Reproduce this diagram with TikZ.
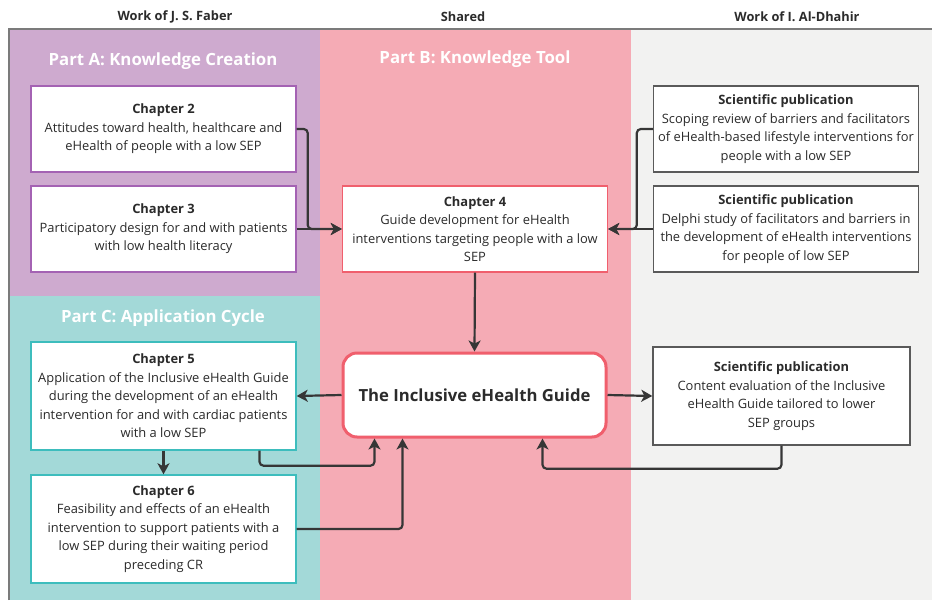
\documentclass[tikz,border=0pt]{standalone}
\usepackage{fontspec}
\setmainfont{Open Sans}
\usetikzlibrary{arrows.meta}
\definecolor{bgA}{HTML}{CEAACF}
\definecolor{bgB}{HTML}{F5ABB5}
\definecolor{bgC}{HTML}{A3D9D8}
\definecolor{bgD}{HTML}{F2F2F1}
\definecolor{lnA}{HTML}{A462B3}
\definecolor{lnB}{HTML}{F05F6D}
\definecolor{lnC}{HTML}{3DBDBD}
\definecolor{lnD}{HTML}{5A5A5A}
\definecolor{ink}{HTML}{2B2B2B}

\begin{document}
\begin{tikzpicture}[x=1pt,y=-1pt,
    box/.style={draw,fill=white,line width=1.4pt,text=ink,align=center,inner sep=1pt,
      minimum width=265pt,minimum height=86pt,font=\fontsize{12.9}{18.5}\selectfont},
    parthead/.style={text=white,font=\fontsize{16.8}{18}\selectfont\bfseries},
    colhead/.style={text=ink,font=\fontsize{12.8}{14}\selectfont\bfseries},
    link/.style={-{Stealth[length=11pt,width=12pt,inset=3pt]},line width=2.2pt,draw=ink!95,rounded corners=4pt}]
                      \useasboundingbox (0,0) rectangle (932,600);
                      \fill[bgA](9,29)rectangle(320,296);
                      \fill[bgC](9,296)rectangle(320,600);
                      \fill[bgB](320,29)rectangle(631,600);
                      \fill[bgD](631,29)rectangle(932,600);
                      \draw[lnD!80,line width=1.5pt](9,600)--(9,29)--(932,29);
                      \node[colhead](hA)at(175,17){Work of J. S. Faber};
                      \node[colhead](hB)at(463,17){Shared};
                      \node[colhead](hC)at(797,17){Work of I. Al-Dhahir};
                      \node[parthead](pA)at(163,61){Part A: Knowledge Creation};
                      \node[parthead](pB)at(475,59){Part B: Knowledge Tool};
                      \node[parthead](pC)at(163,318){Part C: Application Cycle};
                      \node[box,draw=lnA](ch2)at(163.5,129){\textbf{Chapter 2}\\Attitudes toward health, healthcare and\\eHealth of people with a low SEP};
                      \node[box,draw=lnA](ch3)at(163.5,229){\textbf{Chapter 3}\\Participatory design for and with patients\\with low health literacy};
                      \node[box,draw=lnB](ch4)at(475,229){\textbf{Chapter 4}\\Guide development for eHealth\\interventions targeting people with a low\\SEP};
                      \node[box,draw=lnD](pubA)at(786,129){\textbf{Scientific publication}\\Scoping review of barriers and facilitators\\of eHealth-based lifestyle interventions for\\people with a low SEP};
                      \node[box,draw=lnD](pubB)at(786,229){\textbf{Scientific publication}\\Delphi study of facilitators and barriers in\\the development of eHealth interventions\\for people of low SEP};
                      \node[box,draw=lnB,line width=3pt,rounded corners=14pt,minimum width=263pt,minimum height=84pt,
                        font=\fontsize{16.7}{18}\selectfont\bfseries](guide)at(474.5,395){The Inclusive eHealth Guide};
                      \node[box,draw=lnC,minimum height=108pt](ch5)at(163.5,396){\textbf{Chapter 5}\\Application of the Inclusive eHealth Guide\\during the development of an eHealth\\intervention for and with cardiac patients\\with a low SEP};
                      \node[box,draw=lnC,minimum height=108pt](ch6)at(163.5,529){\textbf{Chapter 6}\\Feasibility and effects of an eHealth\\intervention to support patients with a\\low SEP during their waiting period\\preceding CR};
                      \node[box,draw=lnD,minimum width=257pt,minimum height=98pt](pubC)at(781.5,396){\textbf{Scientific publication}\\Content evaluation of the Inclusive\\eHealth Guide tailored to lower\\SEP groups};
                      % arrows into chapter 4
                      \draw[link](ch2.east)--++(11,0)|-(ch4.west);
                      \draw[link](ch3.east)--(ch4.west);
                      \draw[link](pubA.west)--++(-16,0)|-(ch4.east);
                      \draw[link](pubB.west)--(ch4.east);
                      \draw[link](ch4.south)--(guide.north);
                      % around the guide
                      \draw[link](guide.west)--(ch5.east);
                      \draw[link](ch5.south)--(ch6.north);
                      \draw[link](guide.east)--(pubC.west);
                      \draw[link]([xshift=96pt]ch5.south)--++(0,15)-|([xshift=-100pt]guide.south);
                      \draw[link](ch6.east)-|([xshift=-72pt]guide.south);
                      \draw[link](pubC.south)--++(0,23)-|([xshift=68pt]guide.south);
                  \end{tikzpicture}
\end{document}
